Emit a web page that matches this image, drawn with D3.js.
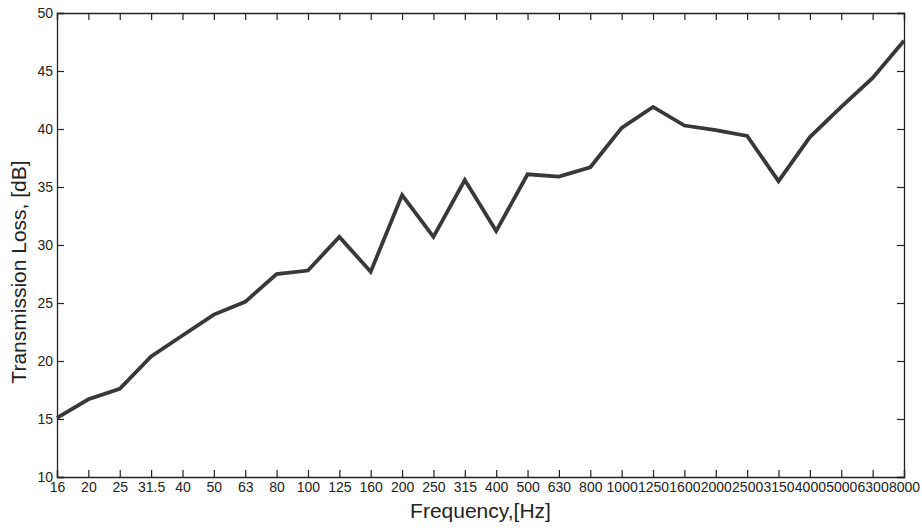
<!DOCTYPE html>
<html>
<head>
<meta charset="utf-8">
<script src="https://cdn.jsdelivr.net/npm/d3@7"></script>
<style>
  body { margin: 0; background: #fff; }
  text { font-family: "Liberation Sans", Arial, sans-serif; fill: #222; }
</style>
</head>
<body>
<div id="chart"></div>
<script>
// data
const freqs = ["16", "20", "25", "31.5", "40", "50", "63", "80", "100", "125", "160", "200",
  "250", "315", "400", "500", "630", "800", "1000", "1250", "1600", "2000", "2500", "3150",
  "4000", "5000", "6300", "8000"];
const tl = [15.1, 16.7, 17.6, 20.4, 22.2, 24.0, 25.1, 27.5, 27.8, 30.7, 27.7, 34.3,
  30.7, 35.6, 31.2, 36.1, 35.9, 36.7, 40.1, 41.9, 40.3, 39.9, 39.4, 35.5,
  39.3, 41.9, 44.4, 47.6];
const yTicks = [10, 15, 20, 25, 30, 35, 40, 45, 50];

const width = 922, height = 530;
const margin = { top: 13, right: 18, bottom: 53, left: 57 };
const innerW = width - margin.left - margin.right;

const svg = d3.select("#chart").append("svg")
  .attr("width", width)
  .attr("height", height);

const x = d3.scalePoint().domain(freqs).range([margin.left, width - margin.right]);
const y = d3.scaleLinear().domain([10, 50]).range([height - margin.bottom, margin.top]);

const axisColor = "#222";
const tickLen = 7;

// bottom axis, ticks pointing in
const xAxis = svg.append("g")
  .attr("transform", `translate(0,${height - margin.bottom})`)
  .call(d3.axisBottom(x).tickSize(-tickLen).tickPadding(5));
// left axis
const yAxis = svg.append("g")
  .attr("transform", `translate(${margin.left},0)`)
  .call(d3.axisLeft(y).tickValues(yTicks).tickSize(-tickLen).tickPadding(4));
// top and right mirror axes
const xTop = svg.append("g")
  .attr("transform", `translate(0,${margin.top})`)
  .call(d3.axisTop(x).tickSize(-tickLen).tickFormat(""));
const yRight = svg.append("g")
  .attr("transform", `translate(${width - margin.right},0)`)
  .call(d3.axisRight(y).tickValues(yTicks).tickSize(-tickLen).tickFormat(""));

[xAxis, yAxis, xTop, yRight].forEach(g => {
  g.select(".domain").attr("stroke", axisColor).attr("stroke-width", 1.3);
  g.selectAll(".tick line").attr("stroke", axisColor).attr("stroke-width", 1.2);
  g.selectAll(".tick text").attr("font-size", 14).attr("fill", "#333");
});

// line
const line = d3.line()
  .x((d, i) => x(freqs[i]))
  .y(d => y(d));

svg.append("path")
  .datum(tl)
  .attr("fill", "none")
  .attr("stroke", "#383838")
  .attr("stroke-width", 3.8)
  .attr("stroke-linejoin", "miter")
  .attr("d", line);

// axis labels
svg.append("text")
  .attr("x", margin.left + innerW / 2)
  .attr("y", 518)
  .attr("text-anchor", "middle")
  .attr("font-size", 21)
  .text("Frequency,[Hz]");

svg.append("text")
  .attr("transform", "translate(26,272) rotate(-90)")
  .attr("text-anchor", "middle")
  .attr("font-size", 21)
  .text("Transmission Loss, [dB]");
</script>
</body>
</html>
